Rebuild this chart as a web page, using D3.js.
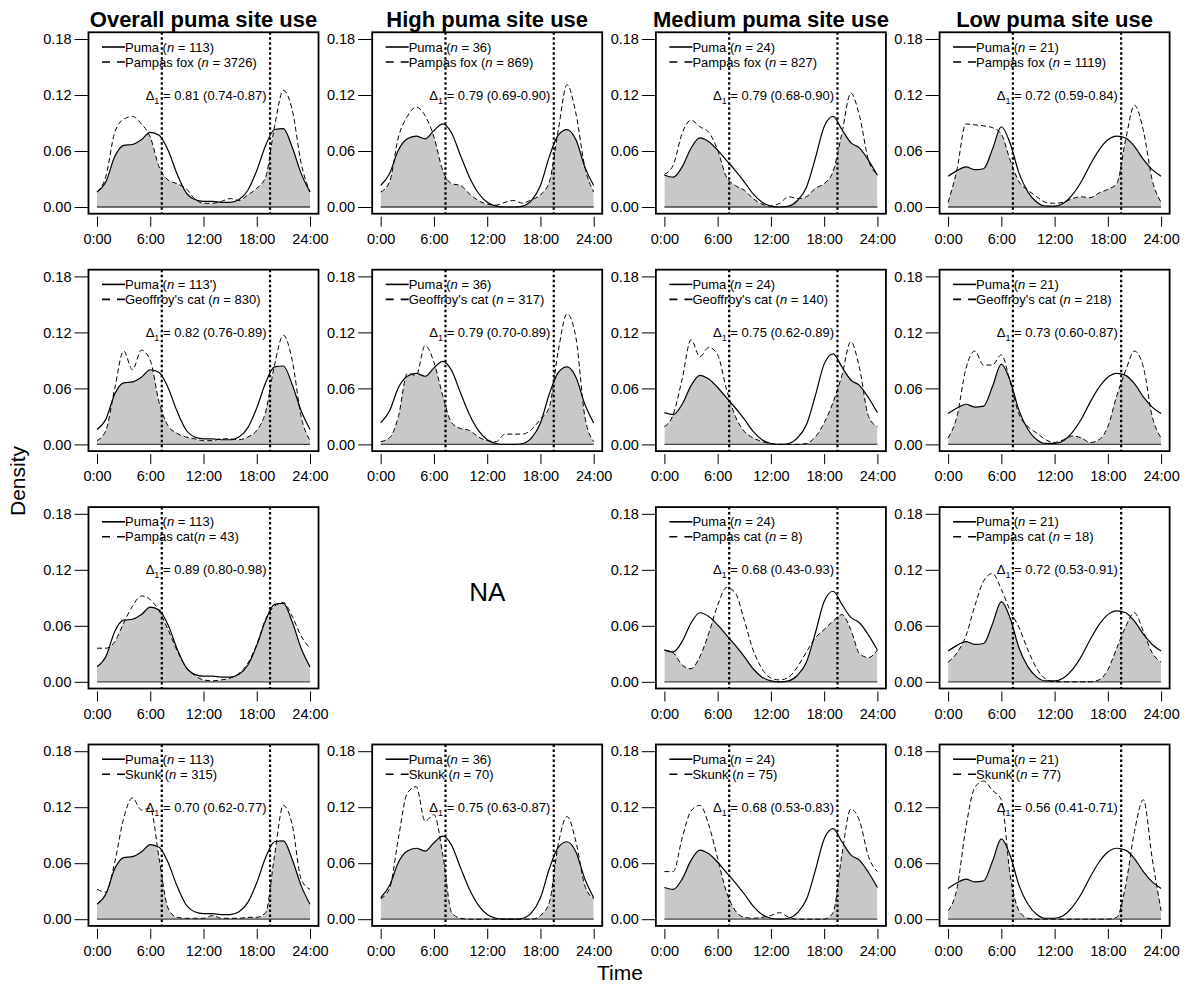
<!DOCTYPE html>
<html><head><meta charset="utf-8">
<script src="https://cdn.jsdelivr.net/npm/d3@7"></script>
<style>
body{margin:0;background:#fff}
svg{display:block}
text{font-family:"Liberation Sans",Arial,Helvetica,sans-serif;fill:#000}
</style>
</head><body>
<svg id="chart" width="1189" height="986"></svg>
<script>
// ---------- data ----------
const hours = d3.range(0, 25); // 0:00 .. 24:00, hourly
const columnTitles = ["Overall puma site use", "High puma site use", "Medium puma site use", "Low puma site use"];
const xTickValues = [0, 6, 12, 18, 24];
const xTickLabels = ["0:00", "6:00", "12:00", "18:00", "24:00"];
const yTickValues = [0, 0.06, 0.12, 0.18];
const yTickLabels = ["0.00", "0.06", "0.12", "0.18"];
const sunrise = 7.3, sunset = 19.5;

// puma activity (one per column)
const pumaOverall = [0.016,0.027,0.054,0.066,0.067,0.072,0.080,0.077,0.061,0.036,0.016,0.008,0.006,0.006,0.005,0.005,0.008,0.018,0.039,0.066,0.083,0.084,0.064,0.036,0.016];
const pumaHigh    = [0.023,0.036,0.061,0.073,0.076,0.073,0.082,0.089,0.079,0.055,0.032,0.015,0.005,0.001,0.000,0.000,0.001,0.007,0.023,0.054,0.077,0.083,0.072,0.043,0.023];
const pumaMedium  = [0.034,0.032,0.043,0.063,0.074,0.070,0.061,0.050,0.039,0.027,0.014,0.005,0.001,0.000,0.001,0.007,0.021,0.052,0.086,0.097,0.083,0.069,0.063,0.050,0.034];
const pumaLow     = [0.033,0.039,0.043,0.040,0.041,0.062,0.086,0.068,0.036,0.016,0.005,0.001,0.001,0.004,0.013,0.027,0.045,0.061,0.072,0.076,0.074,0.065,0.051,0.040,0.033];

// pampas fox
const foxOverall = [0.016,0.033,0.080,0.094,0.097,0.089,0.075,0.043,0.029,0.025,0.020,0.009,0.004,0.004,0.006,0.009,0.007,0.013,0.020,0.032,0.086,0.125,0.104,0.047,0.016];
const foxHigh    = [0.016,0.027,0.075,0.097,0.107,0.098,0.075,0.039,0.025,0.023,0.014,0.007,0.003,0.002,0.005,0.007,0.004,0.008,0.013,0.027,0.082,0.131,0.100,0.043,0.016];
const foxMedium  = [0.035,0.045,0.079,0.093,0.086,0.080,0.061,0.032,0.023,0.018,0.009,0.003,0.001,0.004,0.011,0.009,0.011,0.020,0.025,0.038,0.079,0.122,0.097,0.050,0.035];
const foxLow     = [0.005,0.040,0.089,0.088,0.087,0.085,0.078,0.050,0.027,0.018,0.011,0.005,0.004,0.005,0.009,0.011,0.010,0.015,0.019,0.025,0.072,0.109,0.082,0.029,0.005];

// Geoffroy's cat
const geoOverall = [0.004,0.015,0.060,0.100,0.080,0.101,0.090,0.045,0.020,0.012,0.008,0.006,0.004,0.004,0.006,0.006,0.005,0.008,0.015,0.035,0.085,0.117,0.090,0.030,0.004];
const geoHigh    = [0.003,0.007,0.030,0.076,0.074,0.106,0.088,0.052,0.023,0.017,0.015,0.008,0.004,0.003,0.011,0.011,0.011,0.016,0.027,0.040,0.100,0.140,0.114,0.030,0.003];
const geoMedium  = [0.019,0.032,0.070,0.112,0.094,0.104,0.096,0.059,0.030,0.014,0.007,0.003,0.001,0.000,0.000,0.000,0.001,0.008,0.023,0.045,0.074,0.110,0.081,0.030,0.019];
const geoLow     = [0.007,0.030,0.081,0.100,0.085,0.085,0.096,0.067,0.032,0.019,0.012,0.005,0.002,0.005,0.009,0.007,0.002,0.005,0.019,0.052,0.079,0.100,0.083,0.030,0.007];

// pampas cat (no high-use panel)
const pcatOverall = [0.036,0.036,0.043,0.063,0.081,0.092,0.088,0.076,0.056,0.034,0.016,0.007,0.002,0.001,0.002,0.004,0.009,0.020,0.040,0.067,0.081,0.085,0.070,0.049,0.036];
const pcatMedium  = [0.034,0.031,0.018,0.014,0.027,0.052,0.082,0.101,0.095,0.066,0.034,0.014,0.004,0.002,0.005,0.016,0.032,0.047,0.056,0.065,0.072,0.056,0.030,0.026,0.034];
const pcatLow     = [0.021,0.031,0.049,0.081,0.108,0.116,0.099,0.076,0.058,0.034,0.014,0.003,0.000,0.000,0.000,0.000,0.000,0.002,0.013,0.036,0.059,0.074,0.054,0.031,0.021];

// skunk
const skunkOverall = [0.032,0.029,0.061,0.108,0.130,0.117,0.119,0.065,0.012,0.002,0.001,0.001,0.001,0.004,0.001,0.001,0.001,0.002,0.002,0.007,0.068,0.122,0.101,0.043,0.032];
const skunkHigh    = [0.022,0.033,0.087,0.135,0.142,0.105,0.112,0.069,0.007,0.001,0.000,0.000,0.000,0.000,0.000,0.000,0.000,0.000,0.004,0.018,0.080,0.110,0.083,0.036,0.022];
const skunkMedium  = [0.051,0.051,0.087,0.116,0.122,0.101,0.065,0.029,0.009,0.002,0.001,0.002,0.004,0.007,0.002,0.000,0.000,0.000,0.000,0.007,0.069,0.118,0.105,0.067,0.051];
const skunkLow     = [0.009,0.033,0.098,0.141,0.148,0.138,0.128,0.047,0.009,0.001,0.000,0.000,0.000,0.000,0.000,0.000,0.000,0.000,0.000,0.002,0.036,0.094,0.128,0.065,0.009];

const pumaSeries = [pumaOverall, pumaHigh, pumaMedium, pumaLow];
const otherSeries = [
  [foxOverall, foxHigh, foxMedium, foxLow],
  [geoOverall, geoHigh, geoMedium, geoLow],
  [pcatOverall, null, pcatMedium, pcatLow],
  [skunkOverall, skunkHigh, skunkMedium, skunkLow]
];
const pumaNLabels = [
  ["113","36","24","21"],
  ["113'","36","24","21"],
  ["113","36","24","21"],
  ["113","36","24","21"]
];
const otherNames = [
  ["Pampas fox ","Pampas fox ","Pampas fox ","Pampas fox "],
  ["Geoffroy's cat ","Geoffroy's cat ","Geoffroy's cat ","Geoffroy's cat "],
  ["Pampas cat","","Pampas cat ","Pampas cat "],
  ["Skunk ","Skunk ","Skunk ","Skunk "]
];
const otherN = [
  ["3726","869","827","1119"],
  ["830","317","140","218"],
  ["43",null,"8","18"],
  ["315","70","75","77"]
];
const deltas = [
  ["0.81 (0.74-0.87)","0.79 (0.69-0.90)","0.79 (0.68-0.90)","0.72 (0.59-0.84)"],
  ["0.82 (0.76-0.89)","0.79 (0.70-0.89)","0.75 (0.62-0.89)","0.73 (0.60-0.87)"],
  ["0.89 (0.80-0.98)",null,"0.68 (0.43-0.93)","0.72 (0.53-0.91)"],
  ["0.70 (0.62-0.77)","0.75 (0.63-0.87)","0.68 (0.53-0.83)","0.56 (0.41-0.71)"]
];

// ---------- layout ----------
const svg = d3.select("#chart");
const colStart = 97, colStep = 283.7, plotW = 213;
const rowStart = 39, rowStep = 237.4, plotH = 168;
const fs = 14.5, legFs = 13;

columnTitles.forEach((t, c) => {
  const x0 = colStart + c * colStep;
  svg.append("text").attr("x", x0 + plotW / 2).attr("y", 27)
    .attr("text-anchor", "middle").style("font-size", "22px").style("font-weight", "bold").text(t);
});

svg.append("text").attr("transform", "translate(25,481) rotate(-90)")
  .attr("text-anchor", "middle").style("font-size", "21px").text("Density");
svg.append("text").attr("x", 620).attr("y", 980)
  .attr("text-anchor", "middle").style("font-size", "21px").text("Time");

for (let r = 0; r < 4; r++) {
  for (let c = 0; c < 4; c++) {
    const x0 = colStart + c * colStep;
    const yTop = rowStart + r * rowStep;
    const x = d3.scaleLinear().domain([0, 24]).range([x0, x0 + plotW]);
    const y = d3.scaleLinear().domain([0, 0.18]).range([yTop + plotH, yTop]);
    const other = otherSeries[r][c];
    const g = svg.append("g");
    if (!other) {
      g.append("text").attr("x", x(12)).attr("y", y(0.09) - 6)
        .attr("text-anchor", "middle").attr("dy", "0.35em").style("font-size", "26px").text("NA");
      continue;
    }
    const puma = pumaSeries[c];
    const fl = x(-0.96), fr = x(24.96), ft = y(0.1872), fb = y(-0.0072);

    const curve = d3.curveMonotoneX;
    const clipId = `clip-${r}-${c}`;
    g.append("clipPath").attr("id", clipId).append("path")
      .attr("d", d3.area().x((d, i) => x(hours[i])).y0(y(0)).y1(d => y(d)).curve(curve)(puma));
    g.append("path")
      .attr("d", d3.area().x((d, i) => x(hours[i])).y0(y(0)).y1(d => y(d)).curve(curve)(other))
      .attr("fill", "#c8c8c8").attr("clip-path", `url(#${clipId})`);

    g.append("line").attr("x1", x(0)).attr("x2", x(24)).attr("y1", y(0)).attr("y2", y(0))
      .attr("stroke", "#444").attr("stroke-width", 1.3);

    const line = d3.line().x((d, i) => x(hours[i])).y(d => y(d)).curve(curve);
    g.append("path").attr("d", line(puma)).attr("fill", "none").attr("stroke", "#000").attr("stroke-width", 1.2);
    g.append("path").attr("d", line(other)).attr("fill", "none").attr("stroke", "#000")
      .attr("stroke-width", 1).attr("stroke-dasharray", "5,3");

    // legend
    const lx1 = x0 + 5, lx2 = x0 + 28;
    const ly1 = yTop + 8, ly2 = yTop + 23;
    g.append("line").attr("x1", lx1).attr("x2", lx2).attr("y1", ly1).attr("y2", ly1)
      .attr("stroke", "#000").attr("stroke-width", 1.6);
    g.append("line").attr("x1", lx1).attr("x2", lx2).attr("y1", ly2).attr("y2", ly2)
      .attr("stroke", "#000").attr("stroke-width", 1.6).attr("stroke-dasharray", "8,7");
    const t1 = g.append("text").attr("x", lx2).attr("y", ly1).attr("dy", "0.35em").style("font-size", legFs + "px");
    t1.append("tspan").text("Puma (");
    t1.append("tspan").style("font-style", "italic").text("n");
    t1.append("tspan").text(" = " + pumaNLabels[r][c] + ")");
    const t2 = g.append("text").attr("x", lx2).attr("y", ly2).attr("dy", "0.35em").style("font-size", legFs + "px");
    t2.append("tspan").text(otherNames[r][c] + "(");
    t2.append("tspan").style("font-style", "italic").text("n");
    t2.append("tspan").text(" = " + otherN[r][c] + ")");

    // overlap coefficient
    const dt = g.append("text").attr("x", x(12.3)).attr("y", y(0.12)).attr("dy", "0.35em")
      .attr("text-anchor", "middle").style("font-size", legFs + "px");
    dt.append("tspan").text("\u0394");
    dt.append("tspan").attr("dy", 4).style("font-size", "9px").text("1");
    dt.append("tspan").attr("dy", -4).text(" = " + deltas[r][c]);

    // sunrise / sunset
    [sunrise, sunset].forEach(h => {
      g.append("line").attr("x1", x(h)).attr("x2", x(h)).attr("y1", ft).attr("y2", fb)
        .attr("stroke", "#000").attr("stroke-width", 2.2).attr("stroke-dasharray", "2.5,2.5");
    });

    // frame
    g.append("rect").attr("x", fl).attr("y", ft).attr("width", fr - fl).attr("height", fb - ft)
      .attr("fill", "none").attr("stroke", "#000").attr("stroke-width", 1.8);

    // axes
    const ya = d3.axisLeft(y).tickValues(yTickValues).tickSize(14).tickPadding(3)
      .tickFormat((d, i) => yTickLabels[i]);
    const yg = g.append("g").attr("transform", `translate(${fl},0)`).call(ya);
    yg.select(".domain").remove();
    const xa = d3.axisBottom(x).tickValues(xTickValues).tickSize(10).tickPadding(7)
      .tickFormat((d, i) => xTickLabels[i]);
    const xg = g.append("g").attr("transform", `translate(0,${fb + 3})`).call(xa);
    xg.select(".domain").remove();
    [yg, xg].forEach(a => {
      a.selectAll("text").style("font-size", fs + "px").style("font-family", '"Liberation Sans",Arial,sans-serif').attr("fill", "#000");
      a.selectAll("line").attr("stroke", "#000").attr("stroke-width", 1);
    });
  }
}
</script>
</body></html>
